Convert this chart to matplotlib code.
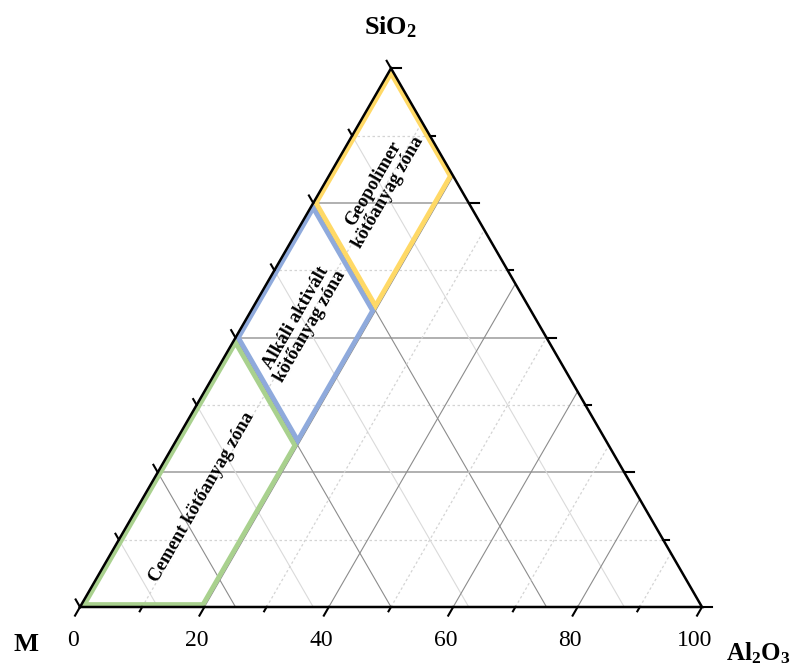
import numpy as np
import matplotlib
matplotlib.use("Agg")
import matplotlib.pyplot as plt
from matplotlib.patches import Polygon

# zone corners given as Al2O3 and SiO2 content (%), M is the rest
zone_names = ["Cement kötőanyag zóna",
              "Alkáli aktivált\nkötőanyag zóna",
              "Geopolimer\nkötőanyag zóna"]
zone_al2o3 = [[0, 20, 20, 0], [0, 20, 20, 0], [0, 20, 20, 0]]
zone_sio2 = [[0, 0, 30, 50], [50, 30, 55, 75], [75, 55, 80, 100]]
zone_colors = ["#A9D18E", "#8FAADC", "#FFD966"]

bottom_labels = [0, 20, 40, 60, 80, 100]
bottom_steps = np.arange(0, 101, 10)      # Al2O3 axis
side_steps = np.arange(0, 100.1, 12.5)    # M and SiO2 axes

plt.rcParams["font.family"] = "Liberation Serif"
plt.rcParams["mathtext.fontset"] = "custom"
plt.rcParams["mathtext.rm"] = "Liberation Serif"
plt.rcParams["mathtext.bf"] = "Liberation Serif:bold"

H = np.sqrt(3) / 2


def to_xy(al, si):
    al = np.asarray(al, dtype=float) / 100
    si = np.asarray(si, dtype=float) / 100
    return al + si / 2, si * H


fig = plt.figure(figsize=(8.07, 6.68), dpi=100)
ax = fig.add_axes([0, 0, 1, 1])
ax.set_xlim(-80 / 622, 727 / 622)
ax.set_ylim(-61 / 622, 607 / 622)
ax.axis("off")

# grid: constant SiO2 (horizontal)
for s in side_steps[1:-1]:
    x, y = to_xy([0, 100 - s], [s, s])
    if s % 25 == 0:
        ax.plot(x, y, color="#b0b0b0", lw=1.4, zorder=1)
    else:
        ax.plot(x, y, color="#d4d4d4", lw=0.9, ls=(0, (2, 2)), zorder=1)

# grid: constant M (parallel to right edge)
for m in side_steps[1:-1]:
    x, y = to_xy([0, 100 - m], [100 - m, 0])
    if m % 25 == 0:
        ax.plot(x, y, color="#8c8c8c", lw=0.8, zorder=1)
    else:
        ax.plot(x, y, color="#dadada", lw=0.8, zorder=1)

# grid: constant Al2O3 (parallel to left edge)
for a in bottom_steps[1:-1]:
    x, y = to_xy([a, a], [0, 100 - a])
    if a % 20 == 0:
        ax.plot(x, y, color="#8c8c8c", lw=0.8, zorder=1)
    else:
        ax.plot(x, y, color="#d4d4d4", lw=0.9, ls=(0, (2, 2)), zorder=1)

# zones, each outline clipped to itself so only the inner half shows
for name, al, si, col in zip(zone_names, zone_al2o3, zone_sio2, zone_colors):
    x, y = to_xy(al, si)
    p = Polygon(np.column_stack([x, y]), closed=True, fill=False,
                edgecolor=col, lw=7, joinstyle="miter", zorder=2)
    ax.add_patch(p)
    p.set_clip_path(p)
    ax.text(x.mean() - 0.004, y.mean() + 0.003, name, rotation=60, ha="center",
            va="center", multialignment="center", fontsize=13.5,
            fontweight="bold", linespacing=1.0, zorder=4)

# triangle frame
x, y = to_xy([0, 100, 0, 0], [0, 0, 100, 0])
ax.plot(x, y, color="black", lw=1.8, zorder=3, solid_joinstyle="miter")

# ticks
for a in bottom_steps:
    x0, y0 = to_xy(a, 0)
    L = 0.016 if a % 20 == 0 else 0.008
    ax.plot([x0, x0 - 0.5 * L], [y0, y0 - H * L], color="black", lw=1.5, zorder=3)
for s in side_steps:
    L = 0.016 if s % 25 == 0 else 0.009
    x0, y0 = to_xy(100 - s, s)
    ax.plot([x0, x0 + L], [y0, y0], color="black", lw=1.5, zorder=3)
    x0, y0 = to_xy(0, s)
    L = 0.014 if s % 25 == 0 else 0.011
    ax.plot([x0, x0 - 0.5 * L], [y0, y0 + H * L], color="black", lw=1.5, zorder=3)

for v in bottom_labels:
    x0, y0 = to_xy(v, 0)
    ax.text(x0 - 0.012, -0.054, str(v), ha="center", va="center", fontsize=17)

ax.text(-0.087, -0.06, "M", ha="center", va="center", fontsize=19, fontweight="bold")
ax.text(0.5, 0.92, r"$\mathbf{SiO_2}$", ha="center", va="baseline", fontsize=19)
ax.text(1.038, -0.086, r"$\mathbf{Al_2O_3}$", ha="left", va="baseline", fontsize=18)

fig.savefig("out.png", dpi=100)
